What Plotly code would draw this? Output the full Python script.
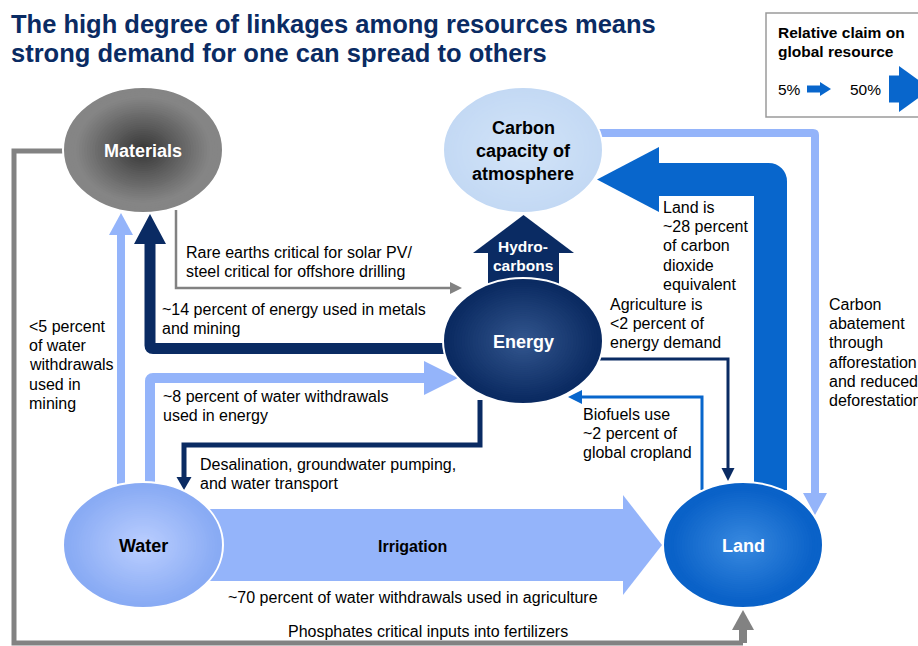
import plotly.graph_objects as go

W, H = 918, 646
FONT = "Liberation Sans, Arial, sans-serif"
NAVY = "#0a2b63"
LIGHT = "#94b4fa"
BLUE = "#0866cc"
GRAY = "#828282"

# ---------------- text content ----------------
title_lines = ["The high degree of linkages among resources means",
               "strong demand for one can spread to others"]
legend_title = ["Relative claim on", "global resource"]
legend_values = ["5%", "50%"]

# ---------------- nodes ----------------
node_labels = [["Materials"], ["Carbon", "capacity of", "atmosphere"], ["Energy"], ["Water"], ["Land"]]
node_cx = [143, 523, 523, 143, 743]
node_cy = [150, 150, 341, 545, 545]
node_label_base = [157, 134, 348, 552, 552]
node_edge = ["#858585", "#c3d9f4", "#0b2b62", "#89abf4", "#0a62c8"]
node_core = ["#353535", "#d3e4f8", "#34578f", "#bccfff", "#3a8ae0"]
node_reach = [0.85, 1.0, 0.95, 0.95, 0.9]
node_text_color = ["white", "black", "white", "black", "white"]
node_rx, node_ry = 80, 63

# ---------------- flows (route to arrow-head base, head length / half width) ----------------
flow_names = ["phosphates_loop", "phosphates_end", "rare_earths", "energy_to_materials",
              "water_to_materials", "water_to_energy", "energy_to_water", "irrigation",
              "energy_to_land", "land_to_energy", "land_to_carbon", "abatement", "hydrocarbons",
              "legend_small", "legend_large"]
flow_routes = [
    [(63, 151), (14, 151), (14, 643), (743, 643)],
    [(743, 643), (743, 630)],
    [(176, 210), (176, 288), (450, 288)],
    [(445, 348.5), (150, 348.5), (150, 244)],
    [(121, 486), (121, 235)],
    [(150, 486), (150, 378), (424, 378)],
    [(480, 400), (480, 445), (184, 445), (184, 477)],
    [(200, 545), (623, 545)],
    [(598, 359), (728, 359), (728, 468)],
    [(702, 490), (702, 397), (582, 397)],
    [(770.5, 490), (770.5, 179.5), (659, 179.5)],
    [(598, 133), (815, 133), (815, 493)],
    [(523.5, 285), (523.5, 253)],
    [(807, 89), (820, 89)],
    [(889, 89), (899, 89)],
]
flow_width = [5, 8, 2.5, 11, 8, 10, 5, 72, 3, 3, 33, 8, 71, 7, 27]
flow_head_len = [0, 20, 12, 30, 22, 34, 13, 39, 13, 14, 62, 22, 38, 11, 32]
flow_head_half = [0, 11, 6, 16, 12, 17, 7.5, 50, 6.5, 7, 32.5, 12, 50.5, 7, 23]
flow_corner = [0, 0, 0, 3, 0, 3, 0, 0, 0, 0, 2, 2, 0, 0, 0]
flow_color = [GRAY, GRAY, GRAY, NAVY, LIGHT, LIGHT, NAVY, LIGHT, NAVY, BLUE, BLUE, LIGHT, NAVY, BLUE, BLUE]

# ---------------- flow labels ----------------
label_texts = [
    ["Rare earths critical for solar PV/", "steel critical for offshore drilling"],
    ["~14 percent of energy used in metals", "and mining"],
    ["<5 percent", "of water", "withdrawals", "used in", "mining"],
    ["~8 percent of water withdrawals", "used in energy"],
    ["Desalination, groundwater pumping,", "and water transport"],
    ["~70 percent of water withdrawals used in agriculture"],
    ["Phosphates critical inputs into fertilizers"],
    ["Land is", "~28 percent", "of carbon", "dioxide", "equivalent"],
    ["Agriculture is", "<2 percent of", "energy demand"],
    ["Biofuels use", "~2 percent of", "global cropland"],
    ["Carbon", "abatement", "through", "afforestation", "and reduced", "deforestation"],
]
label_x = [185, 161, 28, 162, 199, 227, 287, 662, 609, 582, 828]
label_base = [258, 315, 332, 402, 470, 603, 637, 213, 310, 420, 310]


def mix(c1, c2, t):
    a = [int(c1[i:i + 2], 16) for i in (1, 3, 5)]
    b = [int(c2[i:i + 2], 16) for i in (1, 3, 5)]
    return "#" + "".join(f"{round(a[k] + (b[k] - a[k]) * t):02x}" for k in range(3))


def route_path(pts, r):
    d = f"M {pts[0][0]},{pts[0][1]}"
    for i in range(1, len(pts) - 1):
        (x0, y0), (x1, y1), (x2, y2) = pts[i - 1], pts[i], pts[i + 1]
        if r > 0:
            def unit(ax, ay, bx, by):
                L = ((bx - ax) ** 2 + (by - ay) ** 2) ** 0.5
                return (bx - ax) / L, (by - ay) / L
            ux, uy = unit(x0, y0, x1, y1)
            vx, vy = unit(x1, y1, x2, y2)
            d += f" L {x1 - ux * r},{y1 - uy * r} Q {x1},{y1} {x1 + vx * r},{y1 + vy * r}"
        else:
            d += f" L {x1},{y1}"
    d += f" L {pts[-1][0]},{pts[-1][1]}"
    return d


fig = go.Figure()
shapes = []

# legend box
shapes.append(dict(type="rect", xref="x", yref="y", x0=766, y0=13, x1=940, y1=117,
                   line=dict(color="#9a9a9a", width=1.5), fillcolor="white", layer="above"))

# flows
for k, pts in enumerate(flow_routes):
    shapes.append(dict(type="path", xref="x", yref="y", path=route_path(pts, flow_corner[k]),
                       line=dict(color=flow_color[k], width=flow_width[k]),
                       fillcolor="rgba(0,0,0,0)", layer="above"))
    if flow_head_len[k] > 0:
        (xa, ya), (xb, yb) = pts[-2], pts[-1]
        L = ((xb - xa) ** 2 + (yb - ya) ** 2) ** 0.5
        ux, uy = (xb - xa) / L, (yb - ya) / L
        px, py = -uy, ux
        hl, hh = flow_head_len[k], flow_head_half[k]
        tip = (xb + ux * hl, yb + uy * hl)
        p1 = (xb + px * hh, yb + py * hh)
        p2 = (xb - px * hh, yb - py * hh)
        shapes.append(dict(type="path", xref="x", yref="y",
                           path=f"M {p1[0]},{p1[1]} L {tip[0]},{tip[1]} L {p2[0]},{p2[1]} Z",
                           line=dict(width=0), fillcolor=flow_color[k], layer="above"))

# nodes with radial shading
N = 30
for i in range(len(node_cx)):
    cx, cy = node_cx[i], node_cy[i]
    for s_i in range(N):
        s = 1 - s_i / N
        t = min(1.0, s / node_reach[i])
        col = mix(node_core[i], node_edge[i], t)
        shapes.append(dict(type="circle", xref="x", yref="y",
                           x0=cx - node_rx * s, x1=cx + node_rx * s,
                           y0=cy - node_ry * s, y1=cy + node_ry * s,
                           fillcolor=col,
                           line=dict(color="white" if s_i == 0 else col, width=2 if s_i == 0 else 0),
                           layer="above"))


def add_lines(lines, x, base, size, color="black", bold=False, anchor="left", spacing=None):
    spacing = spacing if spacing else 1.2 * size
    for j, ln in enumerate(lines):
        fig.add_annotation(x=x, y=base + j * spacing - 0.35 * size, xref="x", yref="y",
                           text=f"<b>{ln}</b>" if bold else ln, showarrow=False,
                           xanchor=anchor, yanchor="middle", borderpad=0,
                           font=dict(family=FONT, size=size, color=color))


# title
add_lines(title_lines, 10, 33, 25.5, color=NAVY, bold=True, spacing=29)
# legend
add_lines(legend_title, 777, 38, 15.5, bold=True, spacing=19)
add_lines([legend_values[0]], 777, 95, 15.5)
add_lines([legend_values[1]], 849, 95, 15.5)
# node labels
for i in range(len(node_cx)):
    add_lines(node_labels[i], node_cx[i], node_label_base[i], 18, color=node_text_color[i],
              bold=True, anchor="center", spacing=23)
add_lines(["Hydro-", "carbons"], 523, 252, 15.5, color="white", bold=True, anchor="center", spacing=19)
add_lines(["Irrigation"], 412, 552, 16, bold=True, anchor="center")
# flow labels
for k, lines in enumerate(label_texts):
    add_lines(lines, label_x[k], label_base[k], 16, spacing=19.2)

fig.update_layout(
    width=W, height=H, margin=dict(l=0, r=0, t=0, b=0, pad=0),
    paper_bgcolor="white", plot_bgcolor="white", showlegend=False,
    xaxis=dict(range=[0, W], visible=False, fixedrange=True),
    yaxis=dict(range=[H, 0], visible=False, fixedrange=True),
    shapes=shapes,
)
fig.write_html("out.html", config={"displayModeBar": False, "staticPlot": True},
               post_script="document.body.style.margin='0';document.body.style.overflow='hidden';")
